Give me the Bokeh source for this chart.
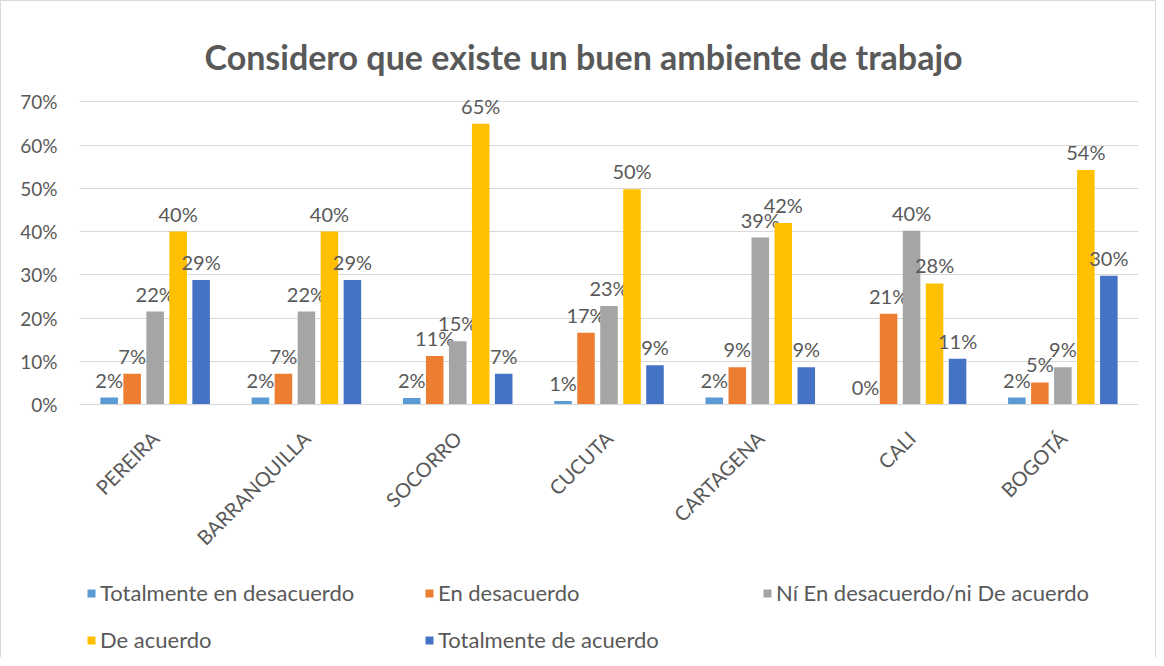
import math
from bokeh.plotting import figure
from bokeh.layouts import column
from bokeh.models import ColumnDataSource, FactorRange, Range1d, Legend, LegendItem, NumeralTickFormatter, FixedTicker
from bokeh.transform import dodge
from bokeh.core.properties import value
from bokeh.embed import file_html
from bokeh.resources import INLINE

cities = ["PEREIRA", "BARRANQUILLA", "SOCORRO", "CUCUTA", "CARTAGENA", "CALI", "BOGOTÁ"]
series_names = ["Totalmente en desacuerdo", "En desacuerdo", "Ní En desacuerdo/ni De acuerdo",
                "De acuerdo", "Totalmente de acuerdo"]
totalmente_en_desacuerdo = [1.6, 1.6, 1.5, 0.8, 1.6, 0.0, 1.6]
en_desacuerdo = [7.1, 7.1, 11.2, 16.6, 8.6, 21.0, 5.1]
ni_ni = [21.5, 21.5, 14.6, 22.8, 38.6, 40.2, 8.6]
de_acuerdo = [40.0, 40.0, 64.9, 49.8, 42.0, 28.0, 54.2]
totalmente_de_acuerdo = [28.8, 28.8, 7.1, 9.1, 8.6, 10.6, 29.8]
y_ticks = [0.0, 0.1, 0.2, 0.3, 0.4, 0.5, 0.6, 0.7]

series = [totalmente_en_desacuerdo, en_desacuerdo, ni_ni, de_acuerdo, totalmente_de_acuerdo]
colors = ["#5B9BD5", "#ED7D31", "#A5A5A5", "#FFC000", "#4472C4"]
offsets = [-0.304, -0.152, 0.0, 0.152, 0.304]

FONT = "Lato"
GRAY = "#595959"
W = 1154

p = figure(x_range=FactorRange(*cities, range_padding=0), y_range=Range1d(0, 0.74),
           width=W, height=560, output_backend="svg", toolbar_location=None,
           min_border_left=78, min_border_right=17, min_border_top=83, min_border_bottom=157)
p.outline_line_color = None
p.background_fill_color = "white"
p.border_fill_color = "white"

p.title.text = "Considero que existe un buen ambiente de trabajo"
p.title.align = "left"
p.title.offset = 125
p.title.text_font = FONT
p.title.text_font_size = "34px"
p.title.text_font_style = "bold"
p.title.text_color = GRAY
p.title.standoff = 16

for vals, col, off in zip(series, colors, offsets):
    src = ColumnDataSource(dict(city=cities, v=[x / 100 for x in vals],
                                lab=[f"{round(x)}%" for x in vals]))
    p.vbar(x=dodge("city", off, range=p.x_range), top="v", width=0.116, bottom=0,
           source=src, fill_color=col, line_color=None)
    p.text(x=dodge("city", off, range=p.x_range), y="v", text="lab", source=src,
           text_align="center", text_baseline="alphabetic", y_offset=-18,
           text_font=value(FONT), text_font_size="20px", text_color=GRAY)

p.yaxis.ticker = FixedTicker(ticks=y_ticks)
p.yaxis.formatter = NumeralTickFormatter(format="0%")
p.yaxis.axis_line_color = None
p.yaxis.major_tick_line_color = None
p.yaxis.minor_tick_line_color = None
p.yaxis.major_label_text_font = FONT
p.yaxis.major_label_text_font_size = "19px"
p.yaxis.major_label_text_color = GRAY
p.yaxis.major_label_standoff = 16

p.xaxis.axis_line_color = "#d9d9d9"
p.xaxis.major_tick_line_color = None
p.xaxis.minor_tick_line_color = None
p.xaxis.major_label_orientation = math.pi / 4
p.xaxis.major_label_text_font = FONT
p.xaxis.major_label_text_font_size = "20px"
p.xaxis.major_label_text_color = GRAY
p.xaxis.major_label_standoff = 24

p.xgrid.grid_line_color = None
p.ygrid.grid_line_color = "#d9d9d9"
p.ygrid.grid_line_width = 1

# legend strip below the chart (its frame is aligned with the chart's frame by the column)
pl = figure(width=W, height=96, output_backend="svg", toolbar_location=None,
            x_range=Range1d(0, 1), y_range=Range1d(0, 1),
            x_axis_location=None, y_axis_location=None,
            min_border_left=78, min_border_right=17,
            min_border_top=0, min_border_bottom=0)
pl.grid.visible = False
pl.outline_line_color = None
pl.background_fill_color = "white"
pl.border_fill_color = "white"
items = []
for name, col in zip(series_names, colors):
    r = pl.vbar(x=[0.5], top=[0], bottom=[0], width=0.0, fill_color=col, line_color=None)
    items.append(LegendItem(label=name, renderers=[r]))

legend = Legend(items=items, location=(7, 4), orientation="horizontal", ncols=3,
                glyph_width=10, glyph_height=10, label_standoff=4, label_width=304,
                label_height=26, spacing=20, padding=0, margin=0,
                border_line_color=None, background_fill_alpha=0,
                label_text_font=FONT, label_text_font_size="22px", label_text_color=GRAY)
pl.add_layout(legend, "center")

layout = column(p, pl, spacing=0,
                styles={"border-top": "1px solid #d9d9d9", "border-left": "1px solid #d9d9d9",
                        "border-right": "1px solid #d9d9d9"})

open("out.html", "w").write(file_html(layout, INLINE))
